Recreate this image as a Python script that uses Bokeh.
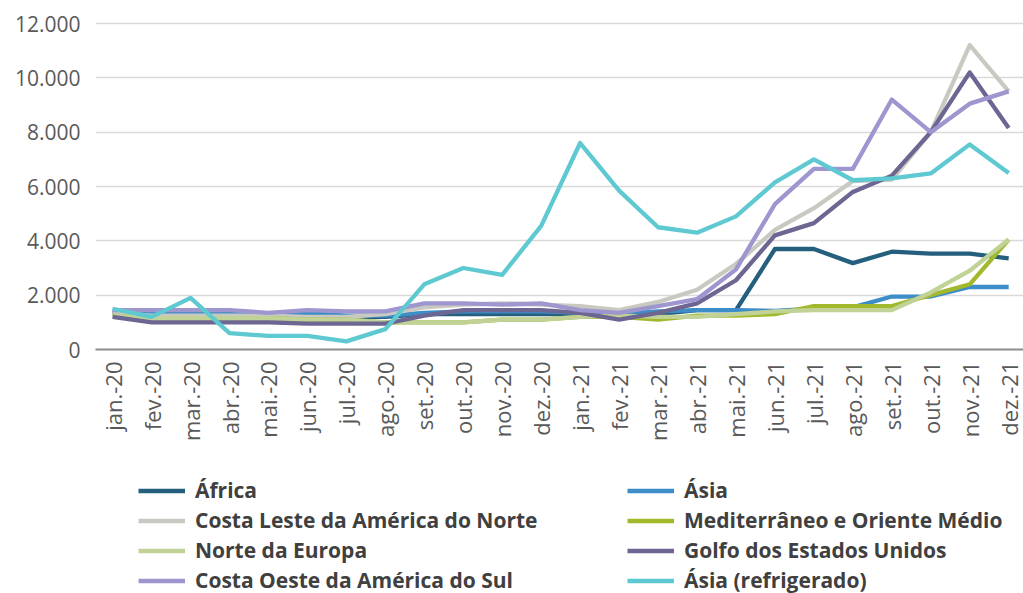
import math
from bokeh.plotting import figure
from bokeh.layouts import column
from bokeh.models import Range1d, FixedTicker, Legend, LegendItem
from bokeh.embed import file_html
from bokeh.resources import INLINE

months = ["jan.-20", "fev.-20", "mar.-20", "abr.-20", "mai.-20", "jun.-20",
          "jul.-20", "ago.-20", "set.-20", "out.-20", "nov.-20", "dez.-20",
          "jan.-21", "fev.-21", "mar.-21", "abr.-21", "mai.-21", "jun.-21",
          "jul.-21", "ago.-21", "set.-21", "out.-21", "nov.-21", "dez.-21"]

y_ticks = [0, 2000, 4000, 6000, 8000, 10000, 12000]
y_tick_labels = ["0", "2.000", "4.000", "6.000", "8.000", "10.000", "12.000"]

africa = [1350, 1250, 1250, 1250, 1250, 1250, 1200, 1200, 1300, 1300, 1300, 1300,
          1300, 1200, 1300, 1450, 1450, 3700, 3700, 3180, 3600, 3530, 3530, 3350]
asia = [1400, 1300, 1350, 1350, 1300, 1350, 1250, 1250, 1350, 1400, 1400, 1400,
        1350, 1300, 1400, 1450, 1450, 1420, 1500, 1550, 1950, 1950, 2300, 2300]
costa_leste = [1350, 1250, 1250, 1250, 1250, 1200, 1200, 1300, 1550, 1650, 1700, 1650,
               1600, 1450, 1750, 2200, 3150, 4400, 5200, 6200, 6250, 8000, 11200, 9500]
mediterraneo = [1250, 1150, 1150, 1150, 1150, 1100, 1100, 1000, 1000, 1000, 1100, 1100,
                1200, 1200, 1100, 1250, 1250, 1300, 1600, 1600, 1600, 2000, 2400, 4050]
norte_europa = [1250, 1150, 1150, 1150, 1150, 1100, 1100, 1000, 1000, 1000, 1100, 1100,
                1200, 1250, 1200, 1200, 1300, 1400, 1450, 1450, 1450, 2100, 2900, 4050]
golfo = [1200, 1000, 1000, 1000, 1000, 950, 950, 950, 1250, 1450, 1450, 1450,
         1350, 1100, 1350, 1700, 2550, 4200, 4650, 5800, 6400, 8000, 10200, 8150]
costa_oeste = [1450, 1450, 1450, 1450, 1350, 1450, 1400, 1400, 1700, 1700, 1650, 1700,
               1450, 1350, 1600, 1850, 2950, 5350, 6650, 6650, 9200, 8000, 9050, 9500]
asia_refrigerado = [1500, 1200, 1900, 600, 500, 500, 300, 750, 2400, 3000, 2750, 4550,
                    7600, 5850, 4500, 4300, 4900, 6150, 7000, 6230, 6300, 6480, 7550, 6500]

series_names = ["África", "Ásia", "Costa Leste da América do Norte",
                "Mediterrâneo e Oriente Médio", "Norte da Europa",
                "Golfo dos Estados Unidos", "Costa Oeste da América do Sul",
                "Ásia (refrigerado)"]
series_values = [africa, asia, costa_leste, mediterraneo, norte_europa,
                 golfo, costa_oeste, asia_refrigerado]
colors = ["#245f7e", "#3c8dc8", "#c9c9c1", "#a2b92d", "#c0d296",
          "#6d6592", "#9e96cf", "#5fc9d1"]

x = list(range(len(months)))

FONT = "Open Sans"
TOP = 21
frame_h = 328
MAIN_H = 456
y_end = 12000 * frame_h / 326

p = figure(frame_width=928, frame_height=frame_h,
           min_border_left=95, min_border_right=0, min_border_top=TOP,
           min_border_bottom=MAIN_H - TOP - frame_h,
           x_range=Range1d(-0.44, 23.38), y_range=Range1d(0, y_end),
           output_backend="svg", toolbar_location=None)
p.outline_line_color = None
p.background_fill_color = "white"
p.border_fill_color = "white"

for name, vals, col in zip(series_names, series_values, colors):
    p.line(x, vals, line_color=col, line_width=4.3, line_join="round")

p.xgrid.grid_line_color = None
p.ygrid.grid_line_color = "#d9d9d9"
p.ygrid.grid_line_width = 1.5
p.ygrid.ticker = FixedTicker(ticks=y_ticks)

p.yaxis.ticker = FixedTicker(ticks=y_ticks)
p.yaxis.major_label_overrides = {t: l for t, l in zip(y_ticks, y_tick_labels)}
p.yaxis.axis_line_color = None
p.yaxis.major_tick_line_color = None
p.yaxis.minor_tick_line_color = None
p.yaxis.major_tick_out = 0
p.yaxis.major_label_standoff = 15
p.yaxis.major_label_text_font = FONT
p.yaxis.major_label_text_font_size = "21px"
p.yaxis.major_label_text_color = "#595959"

p.xaxis.ticker = FixedTicker(ticks=x)
p.xaxis.major_label_overrides = {i: m for i, m in enumerate(months)}
p.xaxis.major_label_orientation = math.pi / 2
p.xaxis.axis_line_color = "#8c8c8c"
p.xaxis.axis_line_width = 2
p.xaxis.major_tick_line_color = None
p.xaxis.minor_tick_line_color = None
p.xaxis.major_tick_out = 0
p.xaxis.major_tick_in = 0
p.xaxis.major_label_standoff = 12
p.xaxis.major_label_text_font = FONT
p.xaxis.major_label_text_font_size = "22px"
p.xaxis.major_label_text_color = "#595959"

# legend panel (series drawn off-view, only their legend glyphs show)
LEG_H = 593 - MAIN_H
p2 = figure(width=1023, height=LEG_H, min_border=0,
            x_range=Range1d(0, 1), y_range=Range1d(0, 1),
            output_backend="svg", toolbar_location=None)
p2.axis.visible = False
p2.grid.visible = False
p2.outline_line_color = None
items = []
for name, vals, col in zip(series_names, series_values, colors):
    r = p2.line(x, vals, line_color=col, line_width=4.3)
    items.append(LegendItem(label=name, renderers=[r]))
legend = Legend(items=items, ncols=2, orientation="horizontal",
                location=(43, -1),
                glyph_width=47, glyph_height=23, label_height=23,
                label_width=430, label_standoff=10, spacing=2,
                padding=0, margin=0,
                label_text_font=FONT, label_text_font_size="21px",
                label_text_font_style="bold", label_text_color="#404040",
                background_fill_alpha=0, border_line_color=None)
p2.add_layout(legend, "center")

layout = column(p, p2, spacing=0)
open("out.html", "w").write(file_html(layout, INLINE))
